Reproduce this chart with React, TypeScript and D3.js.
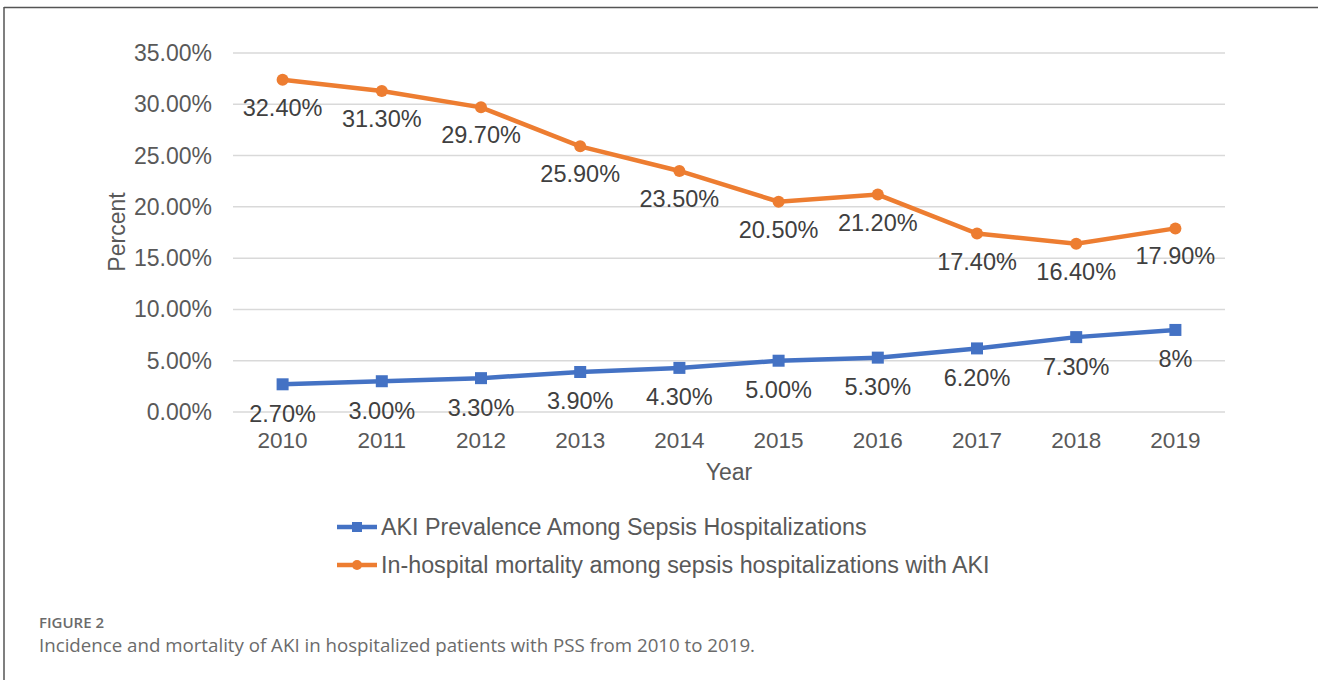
import * as d3 from "d3";

const years = ["2010", "2011", "2012", "2013", "2014", "2015", "2016", "2017", "2018", "2019"];
const akiPrevalence = [2.7, 3.0, 3.3, 3.9, 4.3, 5.0, 5.3, 6.2, 7.3, 8.0];
const akiLabels = ["2.70%", "3.00%", "3.30%", "3.90%", "4.30%", "5.00%", "5.30%", "6.20%", "7.30%", "8%"];
const mortality = [32.4, 31.3, 29.7, 25.9, 23.5, 20.5, 21.2, 17.4, 16.4, 17.9];
const mortalityLabels = ["32.40%", "31.30%", "29.70%", "25.90%", "23.50%", "20.50%", "21.20%", "17.40%", "16.40%", "17.90%"];
const yTicks = [0, 5, 10, 15, 20, 25, 30, 35];
const seriesNames = [
  "AKI Prevalence Among Sepsis Hospitalizations",
  "In-hospital mortality among sepsis hospitalizations with AKI",
];

const WIDTH = 1318;
const HEIGHT = 680;
const BLUE = "#4472C4";
const ORANGE = "#ED7D31";
const TEXT = "#595959";
const FONT = "'Liberation Sans', Arial, sans-serif";

// plot area
const PLOT = { left: 233, right: 1225, top: 53, bottom: 412 };

export default function App() {
  const xScale = d3
    .scalePoint()
    .domain(years)
    .range([PLOT.left, PLOT.right])
    .padding(0.5);
  const yScale = d3.scaleLinear().domain([0, 35]).range([PLOT.bottom, PLOT.top]);

  const line = d3
    .line<number>()
    .x((_, i) => xScale(years[i]) ?? 0)
    .y((d) => yScale(d));

  return (
    <svg
      width={WIDTH}
      height={HEIGHT}
      style={{ position: "absolute", left: 0, top: 0, background: "#fff" }}
      fontFamily={FONT}
    >
      {/* frame */}
      <line x1={4} x2={4} y1={7} y2={HEIGHT} stroke="#555" strokeWidth={1.5} />
      <line x1={4} x2={WIDTH} y1={7.5} y2={7.5} stroke="#555" strokeWidth={1.5} />

      {/* grid + y ticks */}
      {yTicks.map((t) => (
        <g key={t}>
          <line
            x1={PLOT.left}
            x2={PLOT.right}
            y1={yScale(t)}
            y2={yScale(t)}
            stroke="#d9d9d9"
            strokeWidth={1.5}
          />
          <text
            x={212}
            y={yScale(t)}
            textAnchor="end"
            dominantBaseline="central"
            fontSize={23}
            fill={TEXT}
          >
            {t.toFixed(2) + "%"}
          </text>
        </g>
      ))}

      {/* x labels */}
      {years.map((y) => (
        <text
          key={y}
          x={xScale(y)}
          y={448}
          textAnchor="middle"
          fontSize={22.5}
          fill={TEXT}
        >
          {y}
        </text>
      ))}

      <text x={729} y={480} textAnchor="middle" fontSize={23} fill={TEXT}>
        Year
      </text>
      <text
        transform="translate(125,232) rotate(-90)"
        textAnchor="middle"
        fontSize={23}
        fill={TEXT}
      >
        Percent
      </text>

      {/* blue series */}
      <path d={line(akiPrevalence) ?? ""} fill="none" stroke={BLUE} strokeWidth={4.5} />
      {akiPrevalence.map((v, i) => (
        <rect
          key={i}
          x={(xScale(years[i]) ?? 0) - 6}
          y={yScale(v) - 6}
          width={12}
          height={12}
          fill={BLUE}
        />
      ))}

      {/* orange series */}
      <path d={line(mortality) ?? ""} fill="none" stroke={ORANGE} strokeWidth={4.5} />
      {mortality.map((v, i) => (
        <circle key={i} cx={xScale(years[i])} cy={yScale(v)} r={6} fill={ORANGE} />
      ))}

      {/* data labels */}
      {akiPrevalence.map((v, i) => (
        <text
          key={i}
          x={xScale(years[i])}
          y={yScale(v) + 37.5}
          textAnchor="middle"
          fontSize={23.5}
          fill="#404040"
        >
          {akiLabels[i]}
        </text>
      ))}
      {mortality.map((v, i) => (
        <text
          key={i}
          x={xScale(years[i])}
          y={yScale(v) + 36}
          textAnchor="middle"
          fontSize={23.5}
          fill="#404040"
        >
          {mortalityLabels[i]}
        </text>
      ))}

      {/* legend */}
      {seriesNames.map((name, i) => {
        const ly = 527 + i * 38;
        return (
          <g key={name}>
            <line x1={337} x2={377} y1={ly} y2={ly} stroke={i === 0 ? BLUE : ORANGE} strokeWidth={4.5} />
            {i === 0 ? (
              <rect x={352} y={ly - 5} width={10} height={10} fill={BLUE} />
            ) : (
              <circle cx={357} cy={ly} r={5} fill={ORANGE} />
            )}
            <text x={381} y={ly} dominantBaseline="central" fontSize={23.3} fill={TEXT}>
              {name}
            </text>
          </g>
        );
      })}

      {/* caption */}
      <text
        x={39}
        y={628}
        fontSize={15}
        fontFamily="'Open Sans', sans-serif"
        fontWeight={600}
        fill="#6b6b6b"
      >
        FIGURE 2
      </text>
      <text
        x={39}
        y={652}
        fontSize={18.6}
        fontFamily="'Open Sans', sans-serif"
        fill="#6b6b6b"
        textLength={716}
        lengthAdjust="spacingAndGlyphs"
      >
        Incidence and mortality of AKI in hospitalized patients with PSS from 2010 to 2019.
      </text>
    </svg>
  );
}
